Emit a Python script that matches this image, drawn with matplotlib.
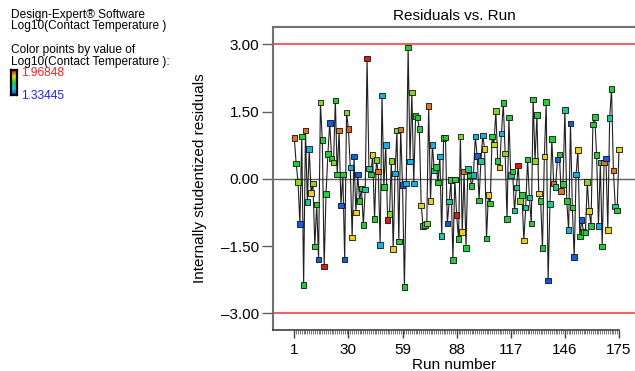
import numpy as np
import matplotlib
matplotlib.use('Agg')
import matplotlib.pyplot as plt
from matplotlib.colors import LinearSegmentedColormap

plt.rcParams['font.family'] = ['Liberation Sans', 'DejaVu Sans']

# Internally studentized residuals, run 1..175
residuals = [
    0.91, 0.34, -0.07, -1.01, 0.94, -2.37, 1.08, -0.52, 0.66, -0.31,
    -0.10, -1.51, -0.57, -1.80, 1.70, 0.86, -1.95, -0.34, 0.55, 1.25,
    0.45, 0.36, 1.75, 0.10, 1.08, -0.59, 0.10, -1.80, 1.48, 1.11,
    0.25, -1.31, 0.50, -0.75, 0.10, -0.49, -0.22, -1.03, -0.24, 2.68,
    0.23, 0.10, 0.53, -0.90, 0.42, 0.16, -1.48, 1.86, -0.18, 0.75,
    -0.92, -0.79, 0.40, -1.57, 0.12, 1.08, -1.40, 1.10, -0.14, -2.41,
    -0.10, 2.93, 0.39, 1.92, -0.10, 1.40, 1.37, 1.11, -0.59, -1.05,
    -1.03, -1.00, 1.62, -0.49, 0.76, 0.19, 0.27, -0.08, 0.50, -1.28,
    0.91, 0.92, -1.00, -0.51, -0.03, -1.81, -0.01, -0.81, -1.34, 0.94,
    -1.18, 0.16, -1.54, 0.22, 0.07, -0.16, 0.08, 0.94, 0.51, -0.48,
    0.40, 0.97, 0.66, -1.33, -0.36, -0.55, 0.94, 0.77, 1.51, 0.40,
    0.25, 1.01, 1.69, 0.56, -0.90, 1.37, 0.08, 0.16, -0.71, -0.19,
    0.30, -0.49, -0.36, -1.37, -0.64, 0.43, -0.42, -1.00, 1.77, 0.40,
    1.42, -0.33, -0.49, -1.54, 0.50, 1.71, -2.27, -0.56, 0.89, -0.10,
    -0.18, 0.43, 0.54, -0.27, -0.12, 1.54, -0.49, -1.14, 1.23, -0.64,
    -1.74, 0.10, 0.64, -1.29, -0.92, -1.18, -1.20, -0.07, -0.72, -1.05,
    1.21, 1.38, 0.53, -1.05, 0.36, -1.51, 0.36, 0.45, -1.14, 1.36,
    2.00, 0.19, -0.62, -0.71, 0.65,
]

# Log10(Contact Temperature) used for the point colours (estimated from the hue)
log_temp = [
    1.89, 1.65, 1.73, 1.37, 1.65, 1.65, 1.89, 1.56, 1.47, 1.82,
    1.73, 1.65, 1.65, 1.37, 1.73, 1.65, 1.96, 1.65, 1.65, 1.37,
    1.65, 1.73, 1.65, 1.65, 1.89, 1.37, 1.65, 1.37, 1.73, 1.91,
    1.47, 1.82, 1.37, 1.82, 1.37, 1.65, 1.65, 1.65, 1.56, 1.96,
    1.56, 1.65, 1.82, 1.65, 1.73, 1.89, 1.47, 1.47, 1.65, 1.47,
    1.96, 1.73, 1.73, 1.82, 1.47, 1.73, 1.65, 1.89, 1.36, 1.65,
    1.47, 1.65, 1.47, 1.73, 1.47, 1.65, 1.65, 1.65, 1.82, 1.65,
    1.65, 1.73, 1.89, 1.82, 1.47, 1.56, 1.65, 1.65, 1.47, 1.56,
    1.65, 1.65, 1.37, 1.56, 1.65, 1.65, 1.65, 1.96, 1.65, 1.73,
    1.82, 1.89, 1.65, 1.56, 1.65, 1.65, 1.47, 1.47, 1.37, 1.65,
    1.56, 1.47, 1.82, 1.65, 1.82, 1.65, 1.65, 1.77, 1.73, 1.65,
    1.82, 1.47, 1.65, 1.73, 1.65, 1.65, 1.56, 1.65, 1.56, 1.56,
    1.96, 1.73, 1.65, 1.82, 1.56, 1.65, 1.56, 1.65, 1.65, 1.73,
    1.65, 1.82, 1.65, 1.65, 1.82, 1.65, 1.36, 1.56, 1.65, 1.89,
    1.56, 1.37, 1.65, 1.89, 1.65, 1.56, 1.65, 1.47, 1.37, 1.65,
    1.37, 1.47, 1.82, 1.65, 1.37, 1.65, 1.65, 1.73, 1.82, 1.65,
    1.65, 1.65, 1.65, 1.47, 1.56, 1.65, 1.89, 1.37, 1.82, 1.56,
    1.65, 1.89, 1.56, 1.65, 1.82,
]

runs = np.arange(1, len(residuals) + 1)
major_runs = [1, 30, 59, 88, 117, 146, 175]
y_ticks = [3.0, 1.5, 0.0, -1.5, -3.0]
limit = 3.0
t_min, t_max = 1.33445, 1.96848

cmap = LinearSegmentedColormap.from_list(
    'de', ['#1040e0', '#10c8e8', '#20d030', '#e8e010', '#e01010'])

W, H = 635, 371
fig = plt.figure(figsize=(W / 100, H / 100), dpi=100)

# plot box in pixels: left 273, right 635, top 27, bottom 330
ax = fig.add_axes([273 / W, 1 - 330 / H, (635 - 273) / W, (330 - 27) / H])
px_per_run = (619 - 294.3) / 174
ax.set_xlim(1 - (294.3 - 273) / px_per_run, 1 + (635 - 294.3) / px_per_run)
ax.set_ylim(-3.37, 3.385)

ax.axhline(limit, color='#f06464', lw=1.5, zorder=1)
ax.axhline(-limit, color='#f06464', lw=1.5, zorder=1)
ax.axhline(0, color='#606060', lw=1.0, zorder=1)

ax.plot(runs, residuals, color='#202020', lw=0.8, zorder=2)
ax.scatter(runs, residuals, c=log_temp, cmap=cmap, vmin=t_min, vmax=t_max,
           marker='s', s=16, edgecolors='#101010', linewidths=0.6, zorder=3)

for side in ['left', 'top']:
    ax.spines[side].set_color('#707070')
    ax.spines[side].set_linewidth(1.5)
ax.spines['right'].set_visible(False)
ax.spines['bottom'].set_color('#404040')
ax.spines['bottom'].set_linewidth(1.2)
ax.spines['bottom'].set_bounds(ax.get_xlim()[0], 175)

ax.set_xticks(major_runs)
ax.set_xticks(runs, minor=True)
ax.set_xticklabels([str(r) for r in major_runs])
ax.tick_params(axis='x', which='major', length=6, width=1.0, color='#404040',
               labelsize=11, pad=3)
ax.tick_params(axis='x', which='minor', length=3, width=0.5, color='#404040')
ax.set_yticks(y_ticks)
ax.set_yticklabels(['%.2f' % v if v >= 0 else '\u2013%.2f' % -v for v in y_ticks])
ax.tick_params(axis='y', length=8, width=1.0, color='#606060', labelsize=11, pad=2)

fig.text(454 / W, 1 - 16 / H, 'Residuals vs. Run', ha='center', va='center', fontsize=11)
fig.text(454 / W, 1 - 365 / H, 'Run number', ha='center', va='center', fontsize=11)
fig.text(200 / W, 1 - 178 / H, 'Internally studentized residuals', ha='center',
         va='center', rotation=90, fontsize=11)

# left-hand info block
fs = 8.6
fig.text(11 / W, 1 - 15 / H, 'Design-Expert\u00ae Software', fontsize=fs, va='center')
fig.text(11 / W, 1 - 26 / H, 'Log10(Contact Temperature )', fontsize=fs, va='center')
fig.text(11 / W, 1 - 50 / H, 'Color points by value of', fontsize=fs, va='center')
fig.text(11 / W, 1 - 62 / H, 'Log10(Contact Temperature ):', fontsize=fs, va='center')
fig.text(21 / W, 1 - 73 / H, '%.5f' % t_max, color='#ff2020', fontsize=fs, va='center')
fig.text(21 / W, 1 - 96 / H, '%.5f' % t_min, color='#2020ff', fontsize=fs, va='center')

cax = fig.add_axes([11 / W, 1 - 95 / H, 6 / W, 25 / H])
grad = np.linspace(1, 0, 50).reshape(-1, 1)
cax.imshow(grad, aspect='auto', cmap=cmap, extent=[0, 1, 0, 1])
cax.set_xticks([])
cax.set_yticks([])
for s in cax.spines.values():
    s.set_linewidth(1.6)
    s.set_color('black')

fig.savefig('out.png', dpi=100)
